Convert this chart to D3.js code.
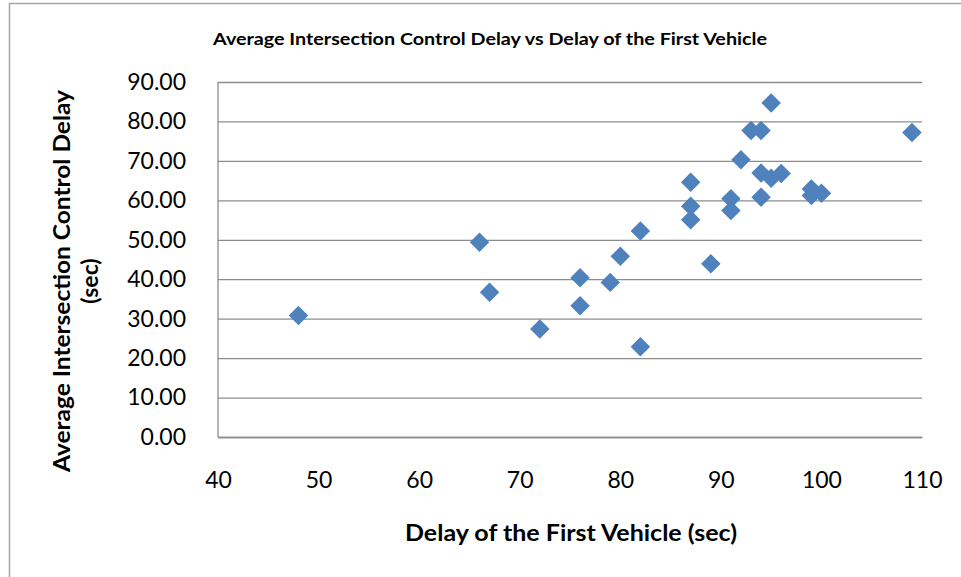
<!DOCTYPE html>
<html>
<head>
<meta charset="utf-8">
<script src="https://cdn.jsdelivr.net/npm/d3@7/dist/d3.min.js"></script>
<style>
  html, body { margin: 0; padding: 0; background: #fff; }
  svg { display: block; }
</style>
</head>
<body>
<div id="chart"></div>
<script>
// Data: delay of the first vehicle (sec) vs average intersection control delay (sec)
const firstVehicleDelay = [48, 66, 67, 72, 76, 76, 79, 80, 82, 82, 87, 87, 87, 89, 91, 91, 92, 93, 94, 94, 94, 95, 95, 96, 99, 99, 100, 109];
const avgControlDelay   = [30.8, 49.4, 36.7, 27.4, 40.4, 33.3, 39.2, 45.8, 52.2, 22.9, 64.6, 58.5, 55.1, 43.9, 60.4, 57.4, 70.3, 77.7, 77.7, 66.9, 60.8, 84.7, 65.6, 66.8, 62.9, 61.2, 61.8, 77.2];
const xTicks = [40, 50, 60, 70, 80, 90, 100, 110];
const yTicks = [0, 10, 20, 30, 40, 50, 60, 70, 80, 90];
const titleText = "Average Intersection Control Delay vs Delay of the First Vehicle";
const xTitle = "Delay of the First Vehicle (sec)";
const yTitleLines = ["Average Intersection Control Delay", "(sec)"];

const W = 961, H = 577;
const plot = { left: 218, right: 922, top: 82, bottom: 437 };
const font = "Lato, 'Open Sans', sans-serif";

const svg = d3.select("#chart").append("svg").attr("width", W).attr("height", H);

// chart frame
svg.append("path")
  .attr("d", `M9.5,${H + 5} L9.5,3.5 L${W + 5},3.5`)
  .attr("fill", "none").attr("stroke", "#a6a6a6").attr("stroke-width", 1.5);

const x = d3.scaleLinear().domain([40, 110]).range([plot.left, plot.right]);
const y = d3.scaleLinear().domain([0, 90]).range([plot.bottom, plot.top]);

// gridlines
svg.append("g")
  .attr("transform", `translate(${plot.left},0)`)
  .call(d3.axisLeft(y).tickValues(yTicks).tickSize(-(plot.right - plot.left)).tickFormat(""))
  .call(g => g.select(".domain").remove())
  .call(g => g.selectAll("line").attr("stroke", "#8c8c8c").attr("stroke-width", 1.3));

// vertical axis line
svg.append("line")
  .attr("x1", plot.left).attr("x2", plot.left)
  .attr("y1", plot.top).attr("y2", plot.bottom)
  .attr("stroke", "#8c8c8c").attr("stroke-width", 1.3);

// y tick labels
svg.append("g")
  .attr("transform", `translate(${plot.left},0)`)
  .call(d3.axisLeft(y).tickValues(yTicks).tickSize(0).tickPadding(32).tickFormat(d3.format(".2f")))
  .call(g => g.select(".domain").remove())
  .call(g => g.selectAll("text").attr("font-family", font).attr("font-size", 23).attr("fill", "#000"));

// x tick labels
svg.append("g")
  .attr("transform", `translate(0,${plot.bottom})`)
  .call(d3.axisBottom(x).tickValues(xTicks).tickSize(0).tickPadding(35).tickFormat(d3.format("d")))
  .call(g => g.select(".domain").attr("stroke", "#8c8c8c").attr("stroke-width", 1.3))
  .call(g => g.selectAll("text").attr("font-family", font).attr("font-size", 23).attr("fill", "#000"));

// points
const diamond = d3.symbol().type(d3.symbolSquare).size(190);
svg.append("g").selectAll("path")
  .data(firstVehicleDelay.map((v, i) => [v, avgControlDelay[i]]))
  .join("path")
  .attr("d", diamond)
  .attr("transform", d => `translate(${x(d[0])},${y(d[1])}) rotate(45)`)
  .attr("fill", "#4F81BD");

// title
svg.append("text")
  .attr("x", 490).attr("y", 45)
  .attr("text-anchor", "middle")
  .attr("font-family", font).attr("font-weight", "bold").attr("font-size", 17)
  .attr("textLength", 554).attr("lengthAdjust", "spacingAndGlyphs")
  .text(titleText);

// x axis title
svg.append("text")
  .attr("x", 571).attr("y", 541)
  .attr("text-anchor", "middle")
  .attr("font-family", font).attr("font-weight", "bold").attr("font-size", 23)
  .attr("textLength", 332).attr("lengthAdjust", "spacingAndGlyphs")
  .text(xTitle);

// y axis title (two lines)
const yt = svg.append("text")
  .attr("transform", "translate(0,281) rotate(-90)")
  .attr("text-anchor", "middle")
  .attr("font-family", font).attr("font-weight", "bold").attr("font-size", 23);
yt.append("tspan").attr("x", 0).attr("y", 70).attr("textLength", 382).attr("lengthAdjust", "spacingAndGlyphs").text(yTitleLines[0]);
yt.append("tspan").attr("x", 0).attr("y", 98).text(yTitleLines[1]);
</script>
</body>
</html>
